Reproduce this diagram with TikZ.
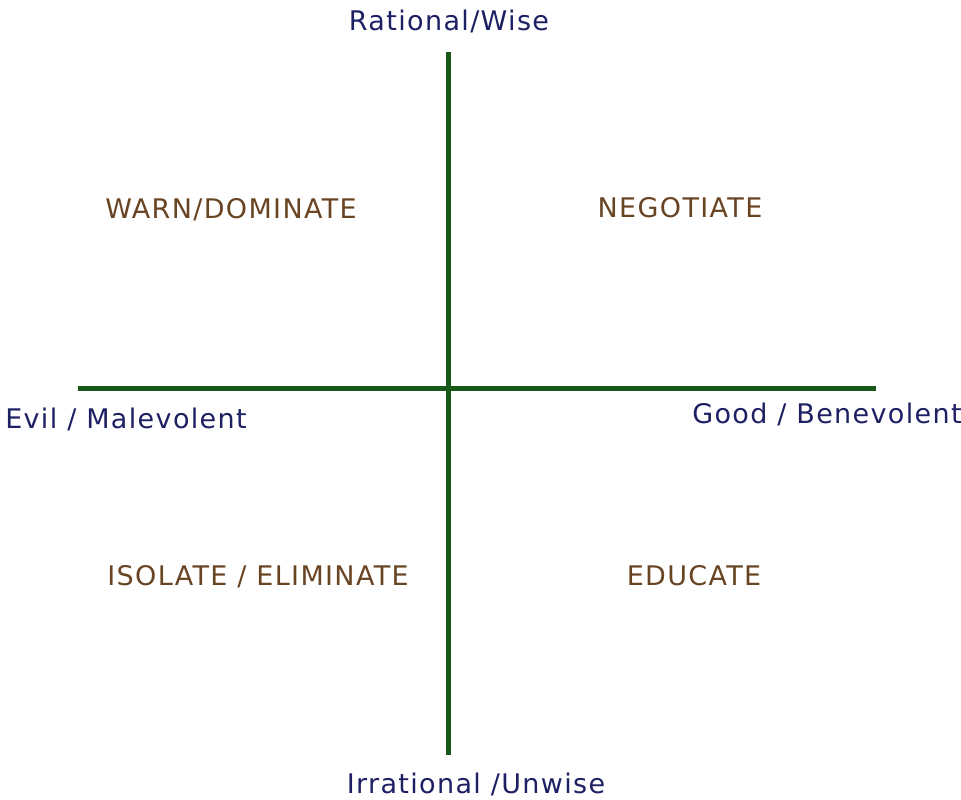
\documentclass[tikz,border=0pt]{standalone}
\usepackage{fontspec}
\setmainfont{DejaVu Sans}[LetterSpace=5]
\usepackage{xcolor}
\usetikzlibrary{positioning}

\definecolor{axisgreen}{RGB}{24,88,24}
\definecolor{axisblue}{RGB}{30,32,100}
\definecolor{quadbrown}{RGB}{105,68,35}

\begin{document}
\begin{tikzpicture}[
        x=1pt, y=-1pt,
        every node/.style={inner sep=0pt, anchor=base, font=\fontsize{27}{31}\selectfont},
        axislabel/.style={text=axisblue},
        quadlabel/.style={text=quadbrown},
        axisline/.style={draw=axisgreen, line width=5pt}
    ]
        \useasboundingbox (0,0) rectangle (961,800);

        % axes
        \coordinate (top) at (448,52);
        \coordinate (bottom) at (448,755);
        \coordinate (left) at (78,388);
        \coordinate (right) at (876,388);
        \draw[axisline] (top) -- (bottom);
        \draw[axisline] (left) -- (right);

        % axis labels
        \node[axislabel] (wise) at (449,31) {Rational/Wise};
        \node[axislabel] (unwise) at (476,793) {Irrational /Unwise};
        \node[axislabel] (evil) at (126,428) {Evil / Malevolent};
        \node[axislabel] (good) at (827,423) {Good / Benevolent};

        % quadrants
        \node[quadlabel] (warn) at (231,218) {WARN/DOMINATE};
        \node[quadlabel] (negotiate) at (680,217) {NEGOTIATE};
        \node[quadlabel] (isolate) at (258,585) {ISOLATE / ELIMINATE};
        \node[quadlabel] (educate) at (694,585) {EDUCATE};
    \end{tikzpicture}
\end{document}
